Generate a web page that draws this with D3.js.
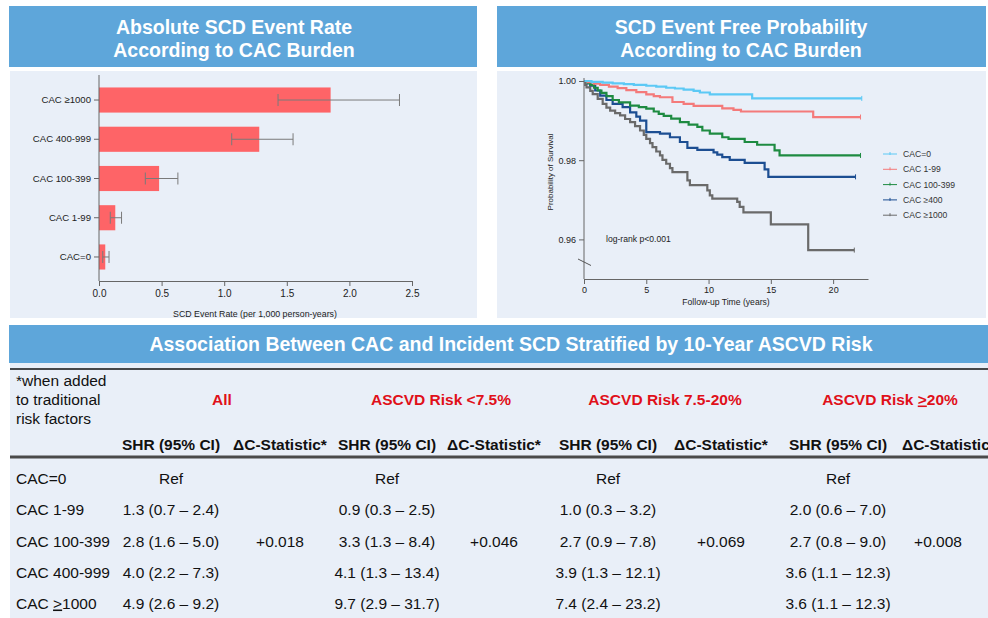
<!DOCTYPE html>
<html><head><meta charset="utf-8">
<script src="https://cdn.jsdelivr.net/npm/d3@7"></script>
<style>
body{margin:0;background:#fff}
svg{display:block;font-family:"Liberation Sans",Arial,sans-serif}
</style>
</head><body>
<svg id="c" width="988" height="618"></svg>
<script>
// ---------- DATA ----------
const barCategories = ["CAC \u22651000", "CAC 400-999", "CAC 100-399", "CAC 1-99", "CAC=0"];
const barRates = [1.85, 1.28, 0.48, 0.13, 0.05];
const barLower = [1.43, 1.06, 0.37, 0.09, 0.03];
const barUpper = [2.40, 1.55, 0.63, 0.18, 0.08];
const barTicks = [0, 0.5, 1.0, 1.5, 2.0, 2.5];

const kmGroups = ["CAC=0", "CAC 1-99", "CAC 100-399", "CAC \u2265400", "CAC \u22651000"];
const kmCac0 = [[0,1],[0.6,0.9998],[1.5,0.9996],[2.3,0.9994],[3.2,0.9992],[4.0,0.9990],[5.0,0.9988],[5.8,0.9986],[6.6,0.9983],[7.3,0.9981],[8.0,0.9978],[8.8,0.9975],[9.3,0.9971],[10.1,0.9966],[13.5,0.9956],[22.3,0.9956]];
const kmCac1 = [[0,1],[0.3,0.9997],[0.8,0.9993],[1.3,0.9990],[2.0,0.9986],[2.7,0.9982],[3.4,0.9977],[4.2,0.9972],[5.0,0.9966],[5.6,0.9962],[6.1,0.9959],[7.1,0.9947],[8.0,0.9942],[8.8,0.9937],[11.1,0.9931],[12.0,0.9927],[12.6,0.9923],[18.4,0.9909],[22.2,0.9909]];
const kmCac100 = [[0,1],[0.3,0.9995],[0.5,0.9990],[0.8,0.9983],[1.1,0.9976],[1.4,0.9970],[1.8,0.9962],[2.3,0.9952],[2.8,0.9946],[3.7,0.9938],[4.4,0.9934],[5.0,0.9930],[5.6,0.9923],[6.0,0.9917],[6.4,0.9912],[7.0,0.9905],[7.7,0.9896],[8.4,0.9890],[9.1,0.9884],[9.5,0.9875],[10.1,0.9867],[11.1,0.9858],[11.6,0.9854],[12.9,0.9846],[13.9,0.9839],[15.3,0.9825],[15.7,0.9812],[22.2,0.9812]];
const kmCac400 = [[0,1],[0.3,0.9994],[0.5,0.9988],[0.9,0.9976],[1.3,0.9963],[1.8,0.9952],[2.3,0.9942],[3.1,0.9934],[3.7,0.9921],[4.2,0.9910],[4.5,0.9900],[5.0,0.9871],[6.1,0.9867],[6.9,0.9858],[7.7,0.9846],[8.3,0.9831],[9.1,0.9826],[10.4,0.9820],[10.7,0.9814],[11.1,0.9808],[11.7,0.9801],[12.9,0.9793],[14.5,0.9777],[14.8,0.9758],[21.8,0.9758]];
const kmCac1000 = [[0,1],[0.1,0.9990],[0.2,0.9984],[0.5,0.9975],[0.7,0.9967],[1.1,0.9955],[1.5,0.9942],[1.8,0.9933],[2.1,0.9925],[2.5,0.9919],[2.9,0.9913],[3.3,0.9904],[3.7,0.9896],[4.1,0.9886],[4.5,0.9875],[4.8,0.9864],[5.0,0.9854],[5.3,0.9843],[5.5,0.9833],[5.8,0.9822],[6.1,0.9812],[6.3,0.9801],[6.6,0.9791],[6.9,0.9780],[7.1,0.9770],[8.3,0.9749],[8.5,0.9737],[9.9,0.9724],[10.1,0.9711],[10.3,0.9703],[12.3,0.9695],[12.5,0.9682],[12.8,0.9668],[15.0,0.9638],[18.0,0.9573],[21.7,0.9573]];
const kmColors = ["#5cc9f5", "#f47a7a", "#1e8b41", "#1c4e92", "#6a6a6a"];
const kmTicksX = [0, 5, 10, 15, 20];
const kmTicksY = [0.96, 0.98, 1.00];

const tableGroups = ["All", "ASCVD Risk <7.5%", "ASCVD Risk 7.5-20%", "ASCVD Risk \u226520%"];
const tableRows = ["CAC=0", "CAC 1-99", "CAC 100-399", "CAC 400-999", "CAC \u22651000"];
const shrAll  = ["Ref", "1.3 (0.7 \u2013 2.4)", "2.8 (1.6 \u2013 5.0)", "4.0 (2.2 \u2013 7.3)", "4.9 (2.6 \u2013 9.2)"];
const shrLow  = ["Ref", "0.9 (0.3 \u2013 2.5)", "3.3 (1.3 \u2013 8.4)", "4.1 (1.3 \u2013 13.4)", "9.7 (2.9 \u2013 31.7)"];
const shrMid  = ["Ref", "1.0 (0.3 \u2013 3.2)", "2.7 (0.9 \u2013 7.8)", "3.9 (1.3 \u2013 12.1)", "7.4 (2.4 \u2013 23.2)"];
const shrHigh = ["Ref", "2.0 (0.6 \u2013 7.0)", "2.7 (0.8 \u2013 9.0)", "3.6 (1.1 \u2013 12.3)", "3.6 (1.1 \u2013 12.3)"];
const deltaC = ["+0.018", "+0.046", "+0.069", "+0.008"];
const deltaRowIndex = 2;
const footNote = ["*when added", "to traditional", "risk factors"];

// ---------- DRAW ----------
const svg = d3.select("#c");
const BLUE = "#5ea6da", PANEL = "#e9eff8";
svg.append("rect").attr("width", 988).attr("height", 618).attr("fill", "#fff");

function titleBox(x, y, w, h, lines, cx, size, lineGap, firstY) {
  svg.append("rect").attr("x", x).attr("y", y).attr("width", w).attr("height", h).attr("fill", BLUE);
  lines.forEach((t, i) => svg.append("text").attr("x", cx).attr("y", firstY + i * lineGap)
    .attr("text-anchor", "middle").attr("fill", "#fff").attr("font-weight", "bold")
    .attr("font-size", size).text(t));
}
// panels
svg.append("rect").attr("x", 10).attr("y", 71).attr("width", 467).attr("height", 247).attr("fill", PANEL);
svg.append("rect").attr("x", 497).attr("y", 71).attr("width", 489).attr("height", 247).attr("fill", PANEL);
svg.append("rect").attr("x", 10).attr("y", 363).attr("width", 978).attr("height", 255).attr("fill", PANEL);
titleBox(9, 6, 468, 61, ["Absolute SCD Event Rate", "According to CAC Burden"], 234, 19.5, 23, 34);
titleBox(497, 6, 489, 61, ["SCD Event Free Probability", "According to CAC Burden"], 741, 19.5, 23, 34);
titleBox(9, 325, 979, 38, ["Association Between CAC and Incident SCD Stratified by 10-Year ASCVD Risk"], 511, 19.5, 0, 351);

// ---- Bar chart ----
const bx = d3.scaleLinear().domain([0, 2.5]).range([99, 412]);
const by = d3.scaleBand().domain(barCategories).range([80.4, 276.6]).paddingInner(0.36).paddingOuter(0.18);
const bg = svg.append("g");
bg.selectAll("rect.bar").data(barCategories).join("rect").attr("class", "bar")
  .attr("x", bx(0)).attr("y", d => by(d)).attr("height", by.bandwidth())
  .attr("width", (d, i) => bx(barRates[i]) - bx(0)).attr("fill", "#fe6467");
const eb = bg.selectAll("g.eb").data(barCategories).join("g").attr("class", "eb")
  .attr("stroke", "#7a7a7a").attr("stroke-width", 1);
eb.append("line").attr("x1", (d, i) => bx(barLower[i])).attr("x2", (d, i) => bx(barUpper[i]))
  .attr("y1", d => by(d) + by.bandwidth() / 2).attr("y2", d => by(d) + by.bandwidth() / 2);
eb.append("line").attr("x1", (d, i) => bx(barLower[i])).attr("x2", (d, i) => bx(barLower[i]))
  .attr("y1", d => by(d) + by.bandwidth() / 2 - 6).attr("y2", d => by(d) + by.bandwidth() / 2 + 6);
eb.append("line").attr("x1", (d, i) => bx(barUpper[i])).attr("x2", (d, i) => bx(barUpper[i]))
  .attr("y1", d => by(d) + by.bandwidth() / 2 - 6).attr("y2", d => by(d) + by.bandwidth() / 2 + 6);

const bxAxis = svg.append("g").attr("transform", "translate(0,281)")
  .call(d3.axisBottom(bx).tickValues(barTicks).tickFormat(d3.format(".1f")).tickSize(5).tickSizeOuter(0).tickPadding(4));
const byAxis = svg.append("g").attr("transform", "translate(99,0)")
  .call(d3.axisLeft(by).tickSize(5).tickPadding(3));
byAxis.select(".domain").remove();
svg.append("line").attr("x1", 99).attr("x2", 99).attr("y1", 75).attr("y2", 281).attr("stroke", "#666");
[bxAxis, byAxis].forEach(a => {
  a.selectAll("path,line").attr("stroke", "#666");
  a.selectAll("text").attr("fill", "#222").attr("font-family", "Liberation Sans, Arial, sans-serif");
});
bxAxis.selectAll("text").attr("font-size", 10);
byAxis.selectAll("text").attr("font-size", 9.6);
svg.append("text").attr("x", 255).attr("y", 317).attr("text-anchor", "middle")
  .attr("font-size", 8.8).attr("fill", "#222").text("SCD Event Rate (per 1,000 person-years)");

// ---- KM chart ----
const kx = d3.scaleLinear().domain([0, 22.8]).range([584, 868]);
const ky = d3.scaleLinear().domain([0.95, 1.0]).range([279, 81]);
const kmData = [kmCac0, kmCac1, kmCac100, kmCac400, kmCac1000];
const line = d3.line().x(d => kx(d[0])).y(d => ky(d[1])).curve(d3.curveStepAfter);
const kg = svg.append("g");
// draw in reverse so light curves on top near start
kmData.slice().reverse().forEach((ser, ri) => {
  const i = kmData.length - 1 - ri;
  kg.append("path").attr("d", line(ser)).attr("fill", "none")
    .attr("stroke", kmColors[i]).attr("stroke-width", 2.2);
  const last = ser[ser.length - 1];
  kg.append("line").attr("x1", kx(last[0])).attr("x2", kx(last[0]))
    .attr("y1", ky(last[1]) - 2.5).attr("y2", ky(last[1]) + 2.5).attr("stroke", kmColors[i]).attr("stroke-width", 1);
});
const kxAxis = svg.append("g").attr("transform", "translate(0,279)")
  .call(d3.axisBottom(kx).tickValues(kmTicksX).tickSize(5).tickSizeOuter(0).tickPadding(3));
const kyAxis = svg.append("g").attr("transform", "translate(584,0)")
  .call(d3.axisLeft(ky).tickValues(kmTicksY).tickFormat(d3.format(".2f")).tickSize(5).tickPadding(3));
kyAxis.select(".domain").remove();
svg.append("line").attr("x1", 584).attr("x2", 584).attr("y1", 78).attr("y2", 279).attr("stroke", "#666");
[kxAxis, kyAxis].forEach(a => {
  a.selectAll("path,line").attr("stroke", "#666");
  a.selectAll("text").attr("fill", "#222").attr("font-size", 9).attr("font-family", "Liberation Sans, Arial, sans-serif");
});
// axis break mark
svg.append("line").attr("x1", 578).attr("y1", 259).attr("x2", 591).attr("y2", 265.5).attr("stroke", "#555").attr("stroke-width", 1);
svg.append("text").attr("x", 726).attr("y", 305).attr("text-anchor", "middle").attr("font-size", 8.6)
  .attr("fill", "#222").text("Follow-up Time (years)");
svg.append("text").attr("transform", "translate(553,172) rotate(-90)").attr("text-anchor", "middle")
  .attr("font-size", 8).attr("fill", "#222").text("Probability of Survival");
svg.append("text").attr("x", 606).attr("y", 242).attr("font-size", 8.6).attr("fill", "#222").text("log-rank p<0.001");
// legend
const lg = svg.append("g").selectAll("g").data(kmGroups).join("g")
  .attr("transform", (d, i) => `translate(883,${154 + i * 15.3})`);
lg.append("line").attr("x1", 0).attr("x2", 14).attr("stroke", (d, i) => kmColors[i]).attr("stroke-width", 1);
lg.append("line").attr("x1", 7).attr("x2", 7).attr("y1", -2).attr("y2", 1).attr("stroke", (d, i) => kmColors[i]).attr("stroke-width", 1);
lg.append("text").attr("x", 20).attr("y", 3).attr("font-size", 8.6).attr("fill", "#333").text(d => d);

// ---- Table ----
function rich(sel, str) {
  const parts = str.split("\u2265");
  sel.append("tspan").text(parts[0]);
  if (parts.length > 1) {
    sel.append("tspan").attr("text-decoration", "underline").text(">");
    sel.append("tspan").text(parts[1]);
  }
}
const tg = svg.append("g").attr("font-family", "Liberation Sans, Arial, sans-serif");
tg.append("line").attr("x1", 10).attr("x2", 988).attr("y1", 369).attr("y2", 369).attr("stroke", "#111").attr("stroke-width", 1.5);
tg.append("line").attr("x1", 10).attr("x2", 988).attr("y1", 457).attr("y2", 457).attr("stroke", "#4a4a4a").attr("stroke-width", 3);
footNote.forEach((t, i) => tg.append("text").attr("x", 16).attr("y", 385.5 + i * 19).attr("font-size", 15.5).attr("fill", "#111").text(t));
const groupCenters = [222, 441, 665, 890];
tableGroups.forEach((g, i) => {
  const t = tg.append("text").attr("x", groupCenters[i]).attr("y", 404.5).attr("text-anchor", "middle")
    .attr("font-size", 15.5).attr("font-weight", "bold").attr("fill", "#e0101a");
  rich(t, g);
});
const shrCenters = [171, 387, 608, 838];
const dcCenters = [280, 494, 721, 938];
shrCenters.forEach((cx, i) => {
  tg.append("text").attr("x", cx).attr("y", 449.5).attr("text-anchor", "middle").attr("font-size", 15.5)
    .attr("font-weight", "bold").attr("fill", "#111").text("SHR (95% CI)");
  const dc = tg.append("text").attr("y", 449.5).attr("font-size", 15.5)
    .attr("font-weight", "bold").attr("fill", "#111").text("\u0394C-Statistic*");
  if (i < 3) dc.attr("x", dcCenters[i]).attr("text-anchor", "middle");
  else dc.attr("x", 902).attr("text-anchor", "start");
});
const rowY = [478, 509.5, 541, 572, 603];
const shrCols = [shrAll, shrLow, shrMid, shrHigh];
tableRows.forEach((r, ri) => {
  const t = tg.append("text").attr("x", 16).attr("y", rowY[ri] + 5.5).attr("font-size", 15.5).attr("fill", "#111");
  rich(t, r);
  shrCols.forEach((col, ci) => {
    tg.append("text").attr("x", shrCenters[ci]).attr("y", rowY[ri] + 5.5).attr("text-anchor", "middle")
      .attr("font-size", 15.5).attr("fill", "#111").text(col[ri]);
    if (ri === deltaRowIndex) {
      tg.append("text").attr("x", dcCenters[ci]).attr("y", rowY[ri] + 5.5).attr("text-anchor", "middle")
        .attr("font-size", 15.5).attr("fill", "#111").text(deltaC[ci]);
    }
  });
});
</script>
</body></html>
